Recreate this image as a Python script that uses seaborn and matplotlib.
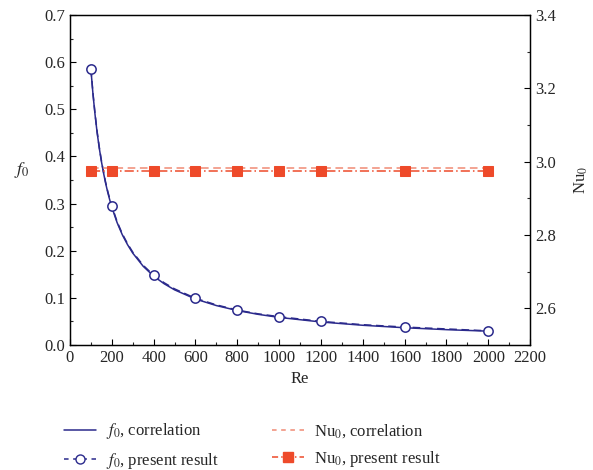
import matplotlib
matplotlib.use("Agg")
import matplotlib.pyplot as plt
import seaborn as sns
import pandas as pd
from matplotlib.lines import Line2D

# correlation curve
re_corr = [100, 110, 120, 130, 140, 150, 160, 170, 180, 190, 200, 225, 250, 275, 300,
           350, 400, 450, 500, 600, 700, 800, 900, 1000, 1200, 1400, 1600, 1800, 2000]
f_corr = [0.585, 0.532, 0.488, 0.450, 0.418, 0.390, 0.366, 0.344, 0.325, 0.308,
          0.2925, 0.260, 0.234, 0.213, 0.195, 0.167, 0.146, 0.130, 0.117, 0.0975,
          0.0836, 0.0731, 0.065, 0.0585, 0.0488, 0.0418, 0.0366, 0.0325, 0.0293]
nu_corr_re = [100, 2000]
nu_corr = [2.982, 2.982]

# present results (markers)
re_pres = [100, 200, 400, 600, 800, 1000, 1200, 1600, 2000]
f_pres = [0.586, 0.295, 0.148, 0.099, 0.074, 0.060, 0.050, 0.038, 0.030]
nu_pres = [2.975, 2.975, 2.975, 2.975, 2.975, 2.975, 2.975, 2.975, 2.975]

# present result dashed curve as traced in the picture
re_pres_line = [100, 110, 120, 130, 140, 150, 160, 170, 180, 190, 200, 225, 250, 275,
                300, 350, 400, 450, 500, 600, 700, 800, 900, 1000, 1200, 1400, 1600,
                1800, 2000]
f_pres_line = [0.586, 0.534, 0.490, 0.452, 0.420, 0.392, 0.368, 0.346, 0.327, 0.310,
               0.295, 0.262, 0.236, 0.215, 0.197, 0.169, 0.148, 0.132, 0.119, 0.099,
               0.085, 0.074, 0.066, 0.060, 0.050, 0.043, 0.038, 0.034, 0.030]

sns.set_style("ticks")
plt.rcParams["font.family"] = ["Liberation Serif", "DejaVu Serif"]
plt.rcParams["mathtext.fontset"] = "stix"

blue = "#2B2A8C"
red = "#EE4A2A"
red_light = "#F08A74"

fig = plt.figure(figsize=(5.93, 4.70), dpi=100)
ax = fig.add_axes([0.118, 0.266, 0.776, 0.702])
ax2 = ax.twinx()

df_fc = pd.DataFrame({"Re": re_corr, "f": f_corr})
df_fp = pd.DataFrame({"Re": re_pres, "f": f_pres, "nu": nu_pres})
df_fl = pd.DataFrame({"Re": re_pres_line, "f": f_pres_line})
df_nc = pd.DataFrame({"Re": nu_corr_re, "nu": nu_corr})

sns.lineplot(data=df_fc, x="Re", y="f", ax=ax, color=blue, lw=1.1, legend=False)
sns.lineplot(data=df_fl, x="Re", y="f", ax=ax, color=blue, lw=1.1,
             linestyle=(0, (5, 3)), legend=False)
sns.scatterplot(data=df_fp, x="Re", y="f", ax=ax, marker="o", s=45,
                facecolor="white", edgecolor=blue, linewidth=1.1, zorder=5,
                legend=False)
sns.lineplot(data=df_nc, x="Re", y="nu", ax=ax2, color=red_light, lw=1.1,
             linestyle=(0, (5, 3)), legend=False)
sns.lineplot(data=df_fp, x="Re", y="nu", ax=ax2, color=red, lw=1.1,
             linestyle=(0, (6, 2, 1, 2)), marker="s", markersize=6.5,
             markerfacecolor=red, markeredgecolor=red, legend=False)

ax.set_xlim(0, 2200)
ax.set_ylim(0, 0.7)
ax2.set_ylim(2.5, 3.4)
ax.set_xticks(range(0, 2201, 200))
ax.set_xticks(range(100, 2200, 200), minor=True)
ax.set_yticks([i / 10 for i in range(8)])
ax.set_yticklabels([f"{i/10:.1f}" for i in range(8)])
ax.set_yticks([0.05 + i / 10 for i in range(7)], minor=True)
ax2.set_yticks([2.6, 2.8, 3.0, 3.2, 3.4])
ax2.set_yticklabels(["2.6", "2.8", "3.0", "3.2", "3.4"])
ax2.set_yticks([2.5, 2.7, 2.9, 3.1, 3.3], minor=True)

for a in (ax, ax2):
    a.tick_params(which="major", direction="in", length=4, width=0.8, labelsize=12,
                  color="black", top=False)
    a.tick_params(which="minor", direction="in", length=2.5, width=0.8)
    for s in a.spines.values():
        s.set_color("black")
        s.set_linewidth(0.9)

ax.set_xlabel("Re", fontsize=12, labelpad=4)
ax.set_ylabel(r"$f_0$", fontsize=13, rotation=0, labelpad=16)
ax2.set_ylabel(r"Nu$_0$", fontsize=12, labelpad=12)

# legend proxies
handles = [
    Line2D([], [], color=blue, lw=1.1),
    Line2D([], [], color=blue, lw=1.1, linestyle=(0, (3, 3)), marker="o",
           markersize=6.5, markerfacecolor="white", markeredgecolor=blue),
    Line2D([], [], color=red_light, lw=1.1, linestyle=(0, (3, 3))),
    Line2D([], [], color=red, lw=1.1, linestyle=(0, (4, 2, 1, 2)), marker="s",
           markersize=6.5, markerfacecolor=red, markeredgecolor=red),
]
labels = [r"$f_0$, correlation", r"$f_0$, present result",
          r"Nu$_0$, correlation", r"Nu$_0$, present result"]
fig.legend(handles, labels, ncol=2, loc="center", bbox_to_anchor=(0.425, 0.051),
           frameon=False, fontsize=12, columnspacing=3.2, handlelength=1.9,
           handletextpad=0.6, labelspacing=0.55)

fig.savefig("out.png", dpi=100)
